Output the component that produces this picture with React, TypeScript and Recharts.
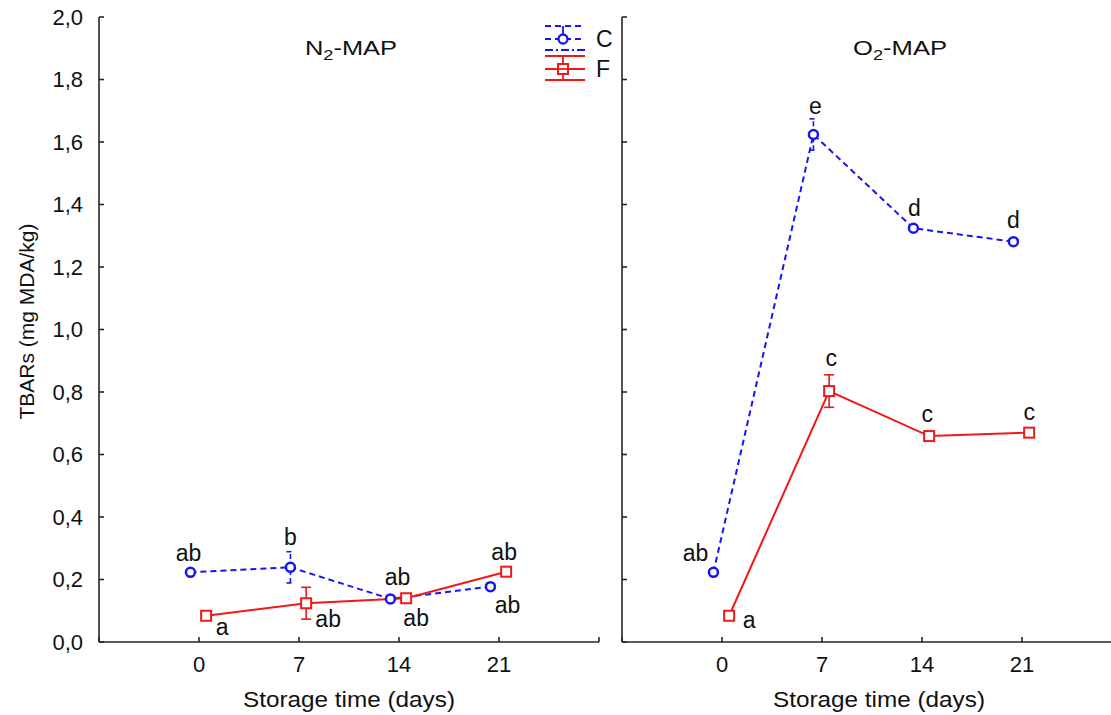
import { LineChart, Line, XAxis, YAxis, ErrorBar, LabelList } from 'recharts'

const FONT = '"Liberation Sans", Arial, sans-serif'
const BLUE = '#1616f2'
const RED = '#f01818'
const AXIS = '#262626'

// storage days and tick values
const days = [0, 7, 14, 21]
const xTicks = [-7, 0, 7, 14, 21, 28]
const yTicks = [0, 0.2, 0.4, 0.6, 0.8, 1.0, 1.2, 1.4, 1.6, 1.8, 2.0]

// N2-MAP
const n2C = [0.223, 0.239, 0.138, 0.177]
const n2CErr = [0.004, 0.05, 0.004, 0.008]
const n2CSig = ['ab', 'b', 'ab', 'ab']
const n2F = [0.084, 0.124, 0.14, 0.225]
const n2FErr = [0.004, 0.051, 0.004, 0.007]
const n2FSig = ['a', 'ab', 'ab', 'ab']

// O2-MAP
const o2C = [0.223, 1.624, 1.324, 1.281]
const o2CErr = [0.004, 0.05, 0.004, 0.008]
const o2CSig = ['ab', 'e', 'd', 'd']
const o2F = [0.084, 0.803, 0.659, 0.67]
const o2FErr = [0.004, 0.052, 0.005, 0.007]
const o2FSig = ['a', 'c', 'c', 'c']

// points are drawn slightly apart so the groups don't overlap
const C_SHIFT = -0.6
const F_SHIFT = 0.5

const build = (vals: number[], errs: number[], sig: string[], shift: number) =>
  days.map((d, i) => ({ x: d + shift, y: vals[i], err: errs[i], sig: sig[i] }))

// label placement relative to each point (dx, dy)
const n2COff = [[-2, -19], [0, -30], [7, -22], [17, 18]]
const n2FOff = [[16, 11], [22, 16], [10, 20], [-2, -20]]
const o2COff = [[-18, -19], [2, -29], [1, -20], [0, -22]]
const o2FOff = [[20, 4], [2, -33], [-2, -22], [0, -21]]

const sigLabel = (rows: { sig: string }[], off: number[][], tag: string) => (p: any) => {
  const i = p.index
  const x = p.x ?? p.viewBox?.x
  const y = p.y ?? p.viewBox?.y
  if (i == null || x == null || y == null) return null
  return (
    <text
      key={`${tag}${i}`}
      x={x + off[i][0]}
      y={y + off[i][1]}
      textAnchor="middle"
      dominantBaseline="central"
      fontSize={23}
      fontFamily={FONT}
      fill="#111"
    >
      {rows[i].sig}
    </text>
  )
}

const circleDot = (p: any) => (
  <circle key={`c${p.index}`} cx={p.cx} cy={p.cy} r={4.5} fill="#fff" stroke={BLUE} strokeWidth={2.5} />
)
const squareDot = (p: any) => (
  <rect key={`s${p.index}`} x={p.cx - 5} y={p.cy - 5} width={10} height={10} fill="#fff" stroke={RED} strokeWidth={2} />
)

const xTitle = (shift: number) => (p: any) => {
  const vb = p.viewBox || { x: 0, y: 642, width: 500 }
  return (
    <text x={vb.x + vb.width / 2 + shift} y={vb.y + 65} textAnchor="middle" fontSize={22} fontFamily={FONT} fill="#111" textLength={212} lengthAdjust="spacingAndGlyphs">
      Storage time (days)
    </text>
  )
}

const yTitle = (p: any) => {
  const vb = p.viewBox || { x: 0, y: 17, height: 625 }
  const cx = 26
  const cy = vb.y + vb.height / 2 - 8
  return (
    <text x={cx} y={cy} transform={`rotate(-90, ${cx}, ${cy})`} textAnchor="middle" dominantBaseline="central" fontSize={21} fontFamily={FONT} fill="#111">
      TBARs (mg MDA/kg)
    </text>
  )
}

interface PanelProps {
  c: ReturnType<typeof build>
  f: ReturnType<typeof build>
  cOff: number[][]
  fOff: number[][]
  width: number
  axisWidth: number
  right: number
  showY: boolean
  titleShift: number
}

function Panel({ c, f, cOff, fOff, width, axisWidth, right, showY, titleShift }: PanelProps) {
  const tickStyle = { fill: '#111', fontSize: 22, fontFamily: FONT }
  return (
    <LineChart width={width} height={715} margin={{ top: 17, right, bottom: 0, left: 0 }}>
      <XAxis
        type="number"
        dataKey="x"
        domain={[-7, 28]}
        ticks={xTicks}
        allowDataOverflow
        tickFormatter={(v: number) => (v < 0 || v > 21 ? '' : String(v))}
        height={73}
        stroke={AXIS}
        strokeWidth={1.6}
        tickSize={-5}
        tickMargin={19}
        tick={tickStyle}
        label={xTitle(titleShift)}
      />
      <YAxis
        type="number"
        domain={[0, 2]}
        ticks={yTicks}
        width={axisWidth}
        tickFormatter={(v: number) => (showY ? v.toFixed(1).replace('.', ',') : '')}
        stroke={AXIS}
        strokeWidth={1.6}
        tickSize={-5}
        tickMargin={21}
        tick={tickStyle}
        label={showY ? yTitle : undefined}
      />
      <Line
        data={c}
        dataKey="y"
        stroke={BLUE}
        strokeWidth={2}
        strokeDasharray="6 4"
        dot={circleDot}
        isAnimationActive={false}
      >
        <ErrorBar dataKey="err" direction="y" width={4} stroke={BLUE} strokeWidth={1.6} strokeDasharray="5 3" />
        <LabelList dataKey="sig" content={sigLabel(c, cOff, 'lc')} />
      </Line>
      <Line data={f} dataKey="y" stroke={RED} strokeWidth={2} dot={squareDot} isAnimationActive={false}>
        <ErrorBar dataKey="err" direction="y" width={5} stroke={RED} strokeWidth={1.6} />
        <LabelList dataKey="sig" content={sigLabel(f, fOff, 'lf')} />
      </Line>
    </LineChart>
  )
}

function Overlay() {
  const t = { fontSize: 21, fontFamily: FONT, fill: '#111' }
  return (
    <svg width={1111} height={715} style={{ position: 'absolute', left: 0, top: 0, pointerEvents: 'none' }}>
      <text x={305} y={55} {...t} textLength={92} lengthAdjust="spacingAndGlyphs">
        N<tspan fontSize={15} dy={5}>2</tspan>
        <tspan dy={-5}>-MAP</tspan>
      </text>
      <text x={853} y={55} {...t} textLength={94} lengthAdjust="spacingAndGlyphs">
        O<tspan fontSize={15} dy={5}>2</tspan>
        <tspan dy={-5}>-MAP</tspan>
      </text>
      {/* legend */}
      <g stroke={BLUE} strokeWidth={1.8} fill="none">
        <line x1={545} x2={585} y1={26} y2={26} strokeDasharray="6 4" />
        <line x1={545} x2={585} y1={39} y2={39} strokeDasharray="6 4" />
        <line x1={545} x2={585} y1={50} y2={50} strokeDasharray="8 3 2 3" />
        <line x1={563} x2={563} y1={26} y2={39} />
        <circle cx={563} cy={39} r={4.5} fill="#fff" strokeWidth={2.3} />
      </g>
      <g stroke={RED} strokeWidth={1.8} fill="none">
        <line x1={545} x2={585} y1={56} y2={56} />
        <line x1={545} x2={585} y1={69} y2={69} />
        <line x1={545} x2={585} y1={80} y2={80} />
        <line x1={563} x2={563} y1={56} y2={80} />
        <rect x={558} y={64} width={10} height={10} fill="#fff" strokeWidth={2} />
        <line x1={558} x2={568} y1={69} y2={69} />
      </g>
      <text x={596} y={47} {...t} fontSize={23}>C</text>
      <text x={596} y={77} {...t} fontSize={23}>F</text>
    </svg>
  )
}

export default function App() {
  const n2cData = build(n2C, n2CErr, n2CSig, C_SHIFT)
  const n2fData = build(n2F, n2FErr, n2FSig, F_SHIFT)
  const o2cData = build(o2C, o2CErr, o2CSig, C_SHIFT)
  const o2fData = build(o2F, o2FErr, o2FSig, F_SHIFT)

  return (
    <div style={{ position: 'absolute', left: 0, top: 0, width: 1111, height: 715, overflow: 'hidden', background: '#fff' }}>
      <div style={{ position: 'absolute', left: 0, top: 0 }}>
        <Panel c={n2cData} f={n2fData} cOff={n2COff} fOff={n2FOff} width={620} axisWidth={99} right={21} showY titleShift={0} />
      </div>
      <div style={{ position: 'absolute', left: 522, top: 0 }}>
        <Panel c={o2cData} f={o2fData} cOff={o2COff} fOff={o2FOff} width={600} axisWidth={100} right={0} showY={false} titleShift={7} />
      </div>
      <Overlay />
    </div>
  )
}
